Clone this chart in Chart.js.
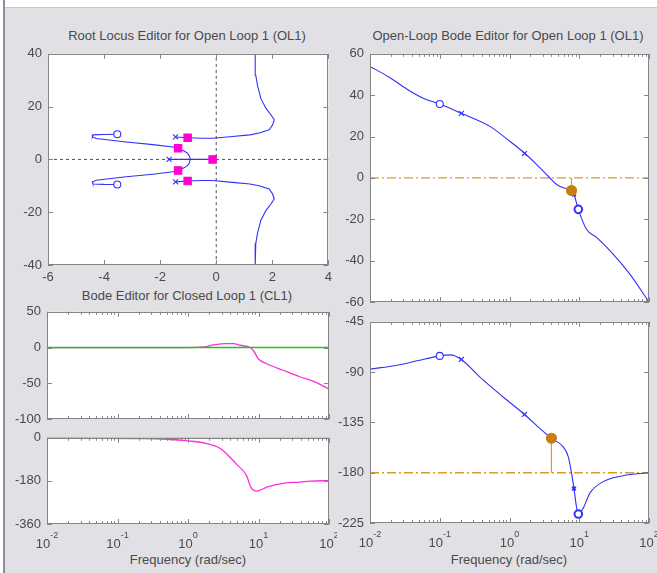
<!DOCTYPE html>
<html>
<head>
<meta charset="utf-8">
<script src="https://cdn.jsdelivr.net/npm/chart.js@4.4.0/dist/chart.umd.min.js"></script>
<style>
  html, body { margin: 0; padding: 0; }
  body {
    width: 657px; height: 573px; position: relative; overflow: hidden;
    background: #e1e0e5;
    font-family: "Liberation Sans", Arial, sans-serif;
  }
  .topband { position: absolute; left: 0; top: 0; width: 657px; height: 7px; background: #fff; border-bottom: 1px solid #c8c7d0; }
  .leftband { position: absolute; left: 0; top: 0; width: 3px; height: 573px; background: #fff; border-right: 2px solid #8d8ca3; }
  canvas { position: absolute; }
  .txt { position: absolute; font-size: 13px; line-height: 13px; color: #4a4a4a; white-space: nowrap; }
  .mid { transform: translateX(-50%); }
  .note { color: #1c1c1c; line-height: 17.5px; }
</style>
</head>
<body>
<div class="topband"></div>
<div class="leftband"></div>

<div class="txt mid" style="left:187px; top:29px;">Root Locus Editor for Open Loop 1 (OL1)</div>
<div class="txt mid" style="left:508px; top:29px;">Open-Loop Bode Editor for Open Loop 1 (OL1)</div>
<div class="txt mid" style="left:187px; top:289px;">Bode Editor for Closed Loop 1 (CL1)</div>
<div class="txt mid" style="left:188px; top:553px;">Frequency (rad/sec)</div>
<div class="txt mid" style="left:509px; top:553px;">Frequency (rad/sec)</div>
<div class="txt note" id="gmText" style="left:375px; top:241px;"></div>
<div class="txt note" id="pmText" style="left:375px; top:485px;"></div>

<script>
// root locus: branches as (re, im) lists
const rlUpperRe = [-1.45, -1.02, -0.5, -0.13, 0.58, 1.2, 1.53, 1.89, 2.01, 2.07, 1.95, 1.77, 1.59, 1.47, 1.41, 1.39];
const rlUpperIm = [8.5, 8.2, 8.0, 8.0, 8.7, 9.3, 10, 11.2, 13.1, 15, 16.9, 19.4, 23.1, 28.1, 31.9, 40];
const rlLowerRe = [-1.45, -1.02, -0.5, -0.13, 0.58, 1.2, 1.53, 1.89, 2.01, 2.07, 1.95, 1.77, 1.59, 1.47, 1.41, 1.39];
const rlLowerIm = [-8.5, -8.2, -8.0, -8.0, -8.7, -9.3, -10, -11.2, -13.1, -15, -16.9, -19.4, -23.1, -28.1, -31.9, -40];
const rlLoopRe = [-3.53, -4.0, -4.40, -4.42, -4.28, -3.21, -2.26, -1.55, -1.36, -1.13, -1.02, -0.95, -0.93,
                  -0.95, -1.02, -1.13, -1.36, -1.55, -2.26, -3.21, -4.28, -4.42, -4.40, -4.0, -3.53];
const rlLoopIm = [9.5, 9.45, 9.3, 8.6, 7.9, 6.6, 5.6, 4.7, 4.2, 3.1, 2.3, 1.2, 0,
                  -1.2, -2.3, -3.1, -4.2, -4.7, -5.6, -6.6, -7.9, -8.6, -9.3, -9.45, -9.5];
const rlRealRe = [-1.68, 0];
const rlRealIm = [0, 0];
const clPoleRe = [-1.02, -1.36, -0.13, -1.36, -1.02];
const clPoleIm = [8.2, 4.2, 0, -4.2, -8.2];
const olPoleRe = [-1.45, -1.68, -1.45];
const olPoleIm = [8.5, 0, -8.5];
const olZeroRe = [-3.53, -3.53];
const olZeroIm = [9.5, -9.5];
const rlTicksX = [-6, -4, -2, 0, 2, 4];
const rlTicksY = [-40, -20, 0, 20, 40];

// open-loop bode
const olMagFreq = [0.01, 0.0186, 0.034, 0.059, 0.1, 0.204, 0.53, 1.02, 1.67, 2.46, 3.6, 4.75, 5.9, 7.75, 8.4, 9.7, 12.7, 17.7, 30.6, 52.8, 100];
const olMagDb = [53.9, 48.8, 42.9, 38.4, 35.7, 31.2, 24.8, 17.6, 11.8, 6.4, 0.8, -3.2, -4.8, -6.07, -8, -15.2, -24.8, -28.8, -36.8, -46.4, -60];
const olPhaseFreq = [0.01, 0.0246, 0.047, 0.1, 0.142, 0.204, 0.38, 0.82, 1.64, 2.74, 3.99, 5.9, 6.97, 7.77, 8.4, 9.1, 9.7, 11.4, 14.2, 22, 42.6, 100];
const olPhaseDeg = [-87.3, -83.8, -79.9, -75.5, -74.6, -78.7, -94.7, -112.5, -127.9, -140.6, -149.2, -156.9, -165.8, -180.6, -194.2, -210, -217, -211.7, -198.3, -188, -182.7, -180];
const olZeroFreq = [0.1];
const olPoleFreq = [0.204, 1.64];
const olCplxPoleFreq = [8.4];
const olCplxZeroFreq = [9.7];
const olMagZeroDb = [35.7];
const olMagPoleDb = [31.2, 11.8];
const olMagCplxPoleDb = [-8];
const olMagCplxZeroDb = [-15.2];
const olPhZeroDeg = [-75.5];
const olPhPoleDeg = [-78.7, -127.9];
const olPhCplxPoleDeg = [-194.2];
const olPhCplxZeroDeg = [-217];

// stability margins
const gmDb = 6.07, gmFreq = 7.75;
const pmDeg = 30.8, pmFreq = 3.99;

// closed-loop bode
const clMagFreq = [0.01, 1.0, 1.7, 2.3, 3.5, 4.4, 5.5, 7.6, 8.5, 10, 13.1, 22.4, 38.6, 66.8, 100];
const clMagDb = [0, 0, 0.9, 3.6, 5.5, 5.5, 3.2, 0, -4.5, -16, -22.7, -31.8, -40.9, -49, -58.2];
const clPhaseFreq = [0.01, 0.17, 0.5, 1.02, 1.85, 2.86, 4.9, 6.8, 7.77, 9.4, 13.1, 22.4, 38.6, 53.6, 100];
const clPhaseDeg = [0, -3, -6, -13, -24, -44, -111, -159, -206, -223, -206, -190, -185, -181, -179];

const PAD_L = 50, PAD_T = 12, PAD_R = 8, PAD_B = 45;
const BLUE = '#3030f6', MAGENTA = '#ff2fd8', GREEN = '#1fc21f';
const ORANGE = '#e09a2c', ORANGE_DOT = '#c67f12';
const TICK_FONT = { family: 'Liberation Sans', size: 13 };
const TICK_COLOR = '#4a4a4a';

const pts = (xs, ys) => xs.map((x, i) => ({ x, y: ys[i] }));

const curve = (data, color, extra) => Object.assign({
    data, showLine: true, borderColor: color, borderWidth: 1.1,
    pointRadius: 0, cubicInterpolationMode: 'monotone',
}, extra || {});

const marks = (data, style, color, extra) => Object.assign({
    data, showLine: false, pointStyle: style, pointRadius: 3.5,
    borderColor: color, backgroundColor: 'rgba(0,0,0,0)', pointBorderWidth: 1.1,
}, extra || {});

// white plot box, inward tick marks and decade labels
const boxPlugin = {
    id: 'box',
    beforeDraw(chart) {
        const a = chart.chartArea, ctx = chart.ctx;
        ctx.save();
        ctx.fillStyle = '#fff';
        ctx.fillRect(a.left, a.top, a.right - a.left, a.bottom - a.top);
        ctx.restore();
    },
    afterDatasetsDraw(chart, args, opts) {
        const a = chart.chartArea, ctx = chart.ctx;
        const xs = chart.scales.x, ys = chart.scales.y;
        ctx.save();
        ctx.strokeStyle = '#858585';
        ctx.lineWidth = 1;
        ctx.beginPath();

        let xt = [];
        if (opts.log) {
            for (let p = -2; p < 2; p++) {
                for (let m = 1; m < 10; m++) xt.push({ v: m * Math.pow(10, p), len: m === 1 ? 5 : 3 });
            }
            xt.push({ v: 100, len: 5 });
        } else {
            xt = opts.xTicks.map(v => ({ v, len: 5 }));
        }
        xt.forEach(t => {
            const px = Math.round(xs.getPixelForValue(t.v)) + 0.5;
            ctx.moveTo(px, a.bottom); ctx.lineTo(px, a.bottom - t.len);
            ctx.moveTo(px, a.top); ctx.lineTo(px, a.top + t.len);
        });
        ys.ticks.forEach(t => {
            const py = Math.round(ys.getPixelForValue(t.value)) + 0.5;
            ctx.moveTo(a.left, py); ctx.lineTo(a.left + 5, py);
            ctx.moveTo(a.right, py); ctx.lineTo(a.right - 5, py);
        });
        ctx.stroke();
        ctx.strokeRect(Math.round(a.left) + 0.5, Math.round(a.top) + 0.5,
            Math.round(a.right - a.left) - 1, Math.round(a.bottom - a.top) - 1);

        if (opts.decadeLabels) {
            ctx.fillStyle = TICK_COLOR;
            ctx.textBaseline = 'alphabetic';
            for (let p = -2; p <= 2; p++) {
                const px = xs.getPixelForValue(Math.pow(10, p));
                const exp = String(p);
                ctx.font = '13px "Liberation Sans"';
                const w1 = ctx.measureText('10').width;
                ctx.font = '9px "Liberation Sans"';
                const w2 = ctx.measureText(exp).width;
                const x0 = px - (w1 + w2) / 2;
                ctx.font = '13px "Liberation Sans"';
                ctx.fillText('10', x0, a.bottom + 24);
                ctx.font = '9px "Liberation Sans"';
                ctx.fillText(exp, x0 + w1, a.bottom + 14);
            }
        }
        ctx.restore();
    },
};

function makeChart(area, datasets, xScale, yScale, boxOpts) {
    const canvas = document.createElement('canvas');
    canvas.width = area.r - area.l + PAD_L + PAD_R;
    canvas.height = area.b - area.t + PAD_T + PAD_B;
    canvas.style.left = (area.l - PAD_L) + 'px';
    canvas.style.top = (area.t - PAD_T) + 'px';
    document.body.appendChild(canvas);

    return new Chart(canvas, {
        type: 'scatter',
        data: { datasets },
        options: {
            responsive: false,
            animation: false,
            devicePixelRatio: 1,
            layout: { padding: { left: 0, top: PAD_T, right: PAD_R, bottom: 0 } },
            plugins: { legend: { display: false }, tooltip: { enabled: false }, box: boxOpts },
            scales: {
                x: Object.assign({
                    grid: { display: false, drawTicks: false },
                    border: { display: false },
                    afterFit: s => { s.height = PAD_B; },
                }, xScale),
                y: Object.assign({
                    grid: { display: false, drawTicks: false },
                    border: { display: false },
                    afterFit: s => { s.width = PAD_L; },
                }, yScale),
            },
        },
        plugins: [boxPlugin],
    });
}

const logX = {
    type: 'logarithmic', min: 0.01, max: 100,
    ticks: { display: false },
};
const linY = (min, max, step, show) => ({
    type: 'linear', min, max,
    ticks: { stepSize: step, display: show !== false, font: TICK_FONT, color: TICK_COLOR, padding: 6 },
});

// root locus
makeChart({ l: 48, t: 52, r: 329, b: 265 }, [
    marks(pts(clPoleRe, clPoleIm), 'rect', '#ff00d0', { pointRadius: 5.2, backgroundColor: '#ff00d0' }),
    marks(pts(olPoleRe, olPoleIm), 'crossRot', BLUE),
    marks(pts(olZeroRe, olZeroIm), 'circle', BLUE, { backgroundColor: '#fff' }),
    curve(pts(rlUpperRe, rlUpperIm), BLUE, { cubicInterpolationMode: 'default' }),
    curve(pts(rlLowerRe, rlLowerIm), BLUE, { cubicInterpolationMode: 'default' }),
    curve(pts(rlLoopRe, rlLoopIm), BLUE, { cubicInterpolationMode: 'default' }),
    curve(pts(rlRealRe, rlRealIm), BLUE, { cubicInterpolationMode: 'default' }),
    curve([{ x: 0, y: -40 }, { x: 0, y: 40 }], '#505050', { borderDash: [3, 3], borderWidth: 1 }),
    curve([{ x: -6, y: 0 }, { x: 4, y: 0 }], '#505050', { borderDash: [3, 3], borderWidth: 1 }),
], {
    type: 'linear', min: rlTicksX[0], max: rlTicksX[rlTicksX.length - 1],
    ticks: { stepSize: 2, font: TICK_FONT, color: TICK_COLOR, padding: 5, maxRotation: 0 },
}, linY(rlTicksY[0], rlTicksY[rlTicksY.length - 1], 20), { xTicks: rlTicksX });

// open-loop magnitude
makeChart({ l: 370, t: 52, r: 649, b: 302 }, [
    marks([{ x: gmFreq, y: -gmDb }], 'circle', ORANGE_DOT, { pointRadius: 5, backgroundColor: ORANGE_DOT }),
    marks(pts(olZeroFreq, olMagZeroDb), 'circle', BLUE, { backgroundColor: '#fff' }),
    marks(pts(olPoleFreq, olMagPoleDb), 'crossRot', BLUE),
    marks(pts(olCplxPoleFreq, olMagCplxPoleDb), 'crossRot', BLUE, { pointRadius: 2.5, pointBorderWidth: 2 }),
    marks(pts(olCplxZeroFreq, olMagCplxZeroDb), 'circle', BLUE, { pointRadius: 3.8, pointBorderWidth: 2, backgroundColor: '#fff' }),
    curve([{ x: gmFreq, y: 0 }, { x: gmFreq, y: -gmDb }], ORANGE, { borderWidth: 1.2 }),
    curve(pts(olMagFreq, olMagDb), BLUE),
    curve([{ x: 0.01, y: 0 }, { x: 100, y: 0 }], ORANGE, { borderDash: [9, 3, 2, 3], borderWidth: 1.4 }),
], logX, linY(-60, 60, 20), { log: true });

// open-loop phase
makeChart({ l: 370, t: 320, r: 649, b: 523 }, [
    marks([{ x: pmFreq, y: -180 + pmDeg }], 'circle', ORANGE_DOT, { pointRadius: 5, backgroundColor: ORANGE_DOT }),
    marks(pts(olZeroFreq, olPhZeroDeg), 'circle', BLUE, { backgroundColor: '#fff' }),
    marks(pts(olPoleFreq, olPhPoleDeg), 'crossRot', BLUE),
    marks(pts(olCplxPoleFreq, olPhCplxPoleDeg), 'crossRot', BLUE, { pointRadius: 2.5, pointBorderWidth: 2 }),
    marks(pts(olCplxZeroFreq, olPhCplxZeroDeg), 'circle', BLUE, { pointRadius: 3.8, pointBorderWidth: 2, backgroundColor: '#fff' }),
    curve([{ x: pmFreq, y: -180 }, { x: pmFreq, y: -180 + pmDeg }], ORANGE, { borderWidth: 1.2 }),
    curve(pts(olPhaseFreq, olPhaseDeg), BLUE),
    curve([{ x: 0.01, y: -180 }, { x: 100, y: -180 }], ORANGE, { borderDash: [9, 3, 2, 3], borderWidth: 1.4 }),
], logX, linY(-225, -45, 45), { log: true, decadeLabels: true });

// closed-loop magnitude
makeChart({ l: 47, t: 310, r: 329, b: 419 }, [
    curve([{ x: 0.01, y: 0 }, { x: 100, y: 0 }], GREEN, { borderWidth: 1.5 }),
    curve(pts(clMagFreq, clMagDb), MAGENTA, { borderWidth: 1.3 }),
], logX, linY(-100, 50, 50), { log: true });

// closed-loop phase
makeChart({ l: 47, t: 436, r: 329, b: 524 }, [
    curve([{ x: 0.01, y: 0 }, { x: 100, y: 0 }], GREEN, { borderWidth: 1.5 }),
    curve(pts(clPhaseFreq, clPhaseDeg), MAGENTA, { borderWidth: 1.3 }),
], logX, linY(-360, 0, 180), { log: true, decadeLabels: true });

document.getElementById('gmText').innerHTML =
    'G.M.: ' + gmDb.toFixed(2) + ' dB<br>Freq: ' + gmFreq.toFixed(2) + ' rad/sec<br>Stable loop';
document.getElementById('pmText').innerHTML =
    'P.M.: ' + pmDeg.toFixed(1) + ' deg<br>Freq: ' + pmFreq.toFixed(2) + ' rad/sec';
</script>
</body>
</html>
